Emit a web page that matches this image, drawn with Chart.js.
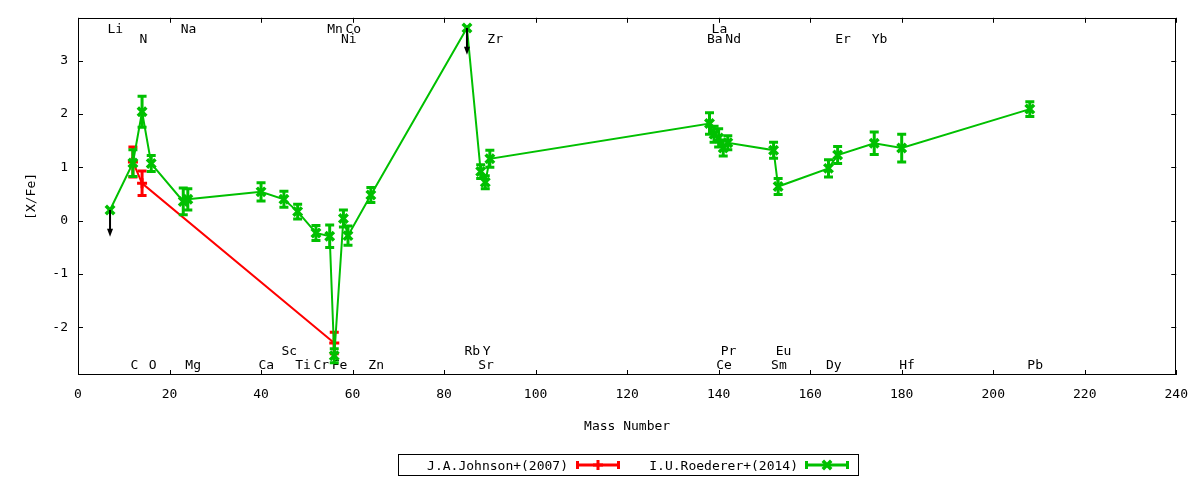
<!DOCTYPE html>
<html><head><meta charset="utf-8">
<script src="https://cdn.jsdelivr.net/npm/chart.js@4.4.1/dist/chart.umd.min.js"></script>
<style>html,body{margin:0;padding:0;background:#fff;}#wrap{width:1200px;height:480px;position:relative;}</style>
</head><body><div id="wrap"><canvas id="c"></canvas></div>
<script>
// ---- tick labels ----
const xTicks = [0, 20, 40, 60, 80, 100, 120, 140, 160, 180, 200, 220, 240];
const yTicks = [-2, -1, 0, 1, 2, 3];

// ---- J.A.Johnson+(2007) ----
const johnsonElem = ['C', 'N', 'Fe'];
const johnsonMass = [12, 14, 56];
const johnsonVal  = [1.10, 0.70, -2.29];
const johnsonErr  = [0.28, 0.23, 0.20];

// ---- I.U.Roederer+(2014) ----
const roedElem = ['Li','C','N','O','Na','Mg','Ca','Sc','Ti','Cr','Mn','Fe','Ni','Co','Zn','Rb','Sr','Y','Zr','Ba','La','Ce','Pr','Nd','Sm','Eu','Dy','Er','Yb','Hf','Pb'];
const roedMass = [7,12,14,16,23,24,40,45,48,52,55,56,58,59,64,85,88,89,90,138,139,140,141,142,152,153,164,166,174,180,208];
const roedVal  = [0.20,1.08,2.04,1.07,0.36,0.40,0.54,0.40,0.17,-0.23,-0.29,-2.53,0.04,-0.28,0.48,3.61,0.92,0.72,1.16,1.82,1.62,1.55,1.36,1.46,1.32,0.64,0.98,1.23,1.45,1.36,2.09];
const roedErr  = [0,0.25,0.29,0.15,0.25,0.20,0.17,0.15,0.14,0.14,0.21,0.13,0.16,0.18,0.14,0,0.13,0.12,0.16,0.20,0.15,0.17,0.15,0.13,0.15,0.15,0.16,0.16,0.21,0.26,0.14];
const roedUpperLimits = ['Li', 'Rb'];

// ---- element labels (groups) ----
const labelsTop1 = ['Li','Na','Mn','Co','La'];
const labelsTop2 = ['N','Ni','Zr','Ba','Nd','Er','Yb'];
const labelsBot1 = ['Sc','Rb','Y','Pr','Eu'];
const labelsBot2 = ['C','O','Mg','Ca','Ti','Cr','Fe','Zn','Sr','Ce','Sm','Dy','Hf','Pb'];

const FONT = '"DejaVu Sans Mono", monospace';
const FS = 13;
const RED = '#ff0000', GREEN = '#00c000';
const ARROW_LEN = 0.5;
const massOf = {};
roedElem.forEach((e, i) => { massOf[e] = roedMass[i]; });

function pts(m, v) { return m.map((x, i) => ({ x: x, y: v[i] })); }

function drawMarker(ctx, style, x, y, color) {
  ctx.save();
  ctx.strokeStyle = color; ctx.lineCap = 'butt';
  ctx.beginPath();
  if (style === 'cross') {
    ctx.lineWidth = 3;
    ctx.moveTo(x - 5, y); ctx.lineTo(x + 5, y);
    ctx.moveTo(x, y - 5); ctx.lineTo(x, y + 5);
  } else {
    ctx.lineWidth = 3.5;
    ctx.moveTo(x - 4.2, y - 4.2); ctx.lineTo(x + 4.2, y + 4.2);
    ctx.moveTo(x + 4.2, y - 4.2); ctx.lineTo(x - 4.2, y + 4.2);
  }
  ctx.stroke();
  ctx.restore();
}

const errorBars = {
  id: 'errorBars',
  afterDatasetDraw(chart, args) {
    const ds = chart.data.datasets[args.index];
    const xs = chart.scales.x, ys = chart.scales.y, ctx = chart.ctx;
    const a = chart.chartArea;
    ctx.save();
    ctx.beginPath(); ctx.rect(a.left, a.top, a.right - a.left, a.bottom - a.top); ctx.clip();
    ctx.strokeStyle = ds.borderColor; ctx.lineWidth = 3;
    ds.data.forEach((p, i) => {
      const e = ds.errors[i];
      if (!e) return;
      const px = xs.getPixelForValue(p.x);
      const y1 = ys.getPixelForValue(p.y + e), y2 = ys.getPixelForValue(p.y - e);
      ctx.beginPath();
      ctx.moveTo(px, y1); ctx.lineTo(px, y2);
      ctx.moveTo(px - 4.5, y1); ctx.lineTo(px + 4.5, y1);
      ctx.moveTo(px - 4.5, y2); ctx.lineTo(px + 4.5, y2);
      ctx.stroke();
    });
    // upper-limit arrows
    if (ds.upper) {
      ctx.strokeStyle = '#000'; ctx.fillStyle = '#000'; ctx.lineWidth = 2;
      ds.data.forEach((p, i) => {
        if (!ds.upper.includes(ds.elems[i])) return;
        const px = xs.getPixelForValue(p.x);
        const y0 = ys.getPixelForValue(p.y), y1 = ys.getPixelForValue(p.y - ARROW_LEN);
        ctx.beginPath(); ctx.moveTo(px, y0); ctx.lineTo(px, y1 - 6); ctx.stroke();
        ctx.beginPath(); ctx.moveTo(px, y1); ctx.lineTo(px - 3, y1 - 8); ctx.lineTo(px + 3, y1 - 8); ctx.closePath(); ctx.fill();
      });
    }
    ctx.restore();
  }
};

const frameAndLabels = {
  id: 'frameAndLabels',
  beforeDatasetsDraw(chart) {
    const ctx = chart.ctx, a = chart.chartArea, xs = chart.scales.x, ys = chart.scales.y;
    ctx.save();
    ctx.strokeStyle = '#000'; ctx.lineWidth = 1;
    ctx.strokeRect(Math.round(a.left) + 0.5, Math.round(a.top) + 0.5, Math.round(a.right - a.left) - 1, Math.round(a.bottom - a.top) - 1);
    ctx.beginPath();
    xTicks.forEach(v => {
      const px = Math.round(xs.getPixelForValue(v)) + 0.5;
      ctx.moveTo(px, a.bottom); ctx.lineTo(px, a.bottom - 5);
      ctx.moveTo(px, a.top); ctx.lineTo(px, a.top + 5);
    });
    yTicks.forEach(v => {
      const py = Math.round(ys.getPixelForValue(v)) + 0.5;
      ctx.moveTo(a.left, py); ctx.lineTo(a.left + 5, py);
      ctx.moveTo(a.right, py); ctx.lineTo(a.right - 5, py);
    });
    ctx.stroke();
    // element labels
    ctx.fillStyle = '#000'; ctx.font = FS + 'px ' + FONT;
    ctx.textAlign = 'left'; ctx.textBaseline = 'alphabetic';
    const rows = [[labelsTop1, a.top + 15.3], [labelsTop2, a.top + 25.3], [labelsBot1, a.bottom - 19.8], [labelsBot2, a.bottom - 6.3]];
    rows.forEach(([names, y]) => {
      names.forEach(n => { ctx.fillText(n, xs.getPixelForValue(massOf[n]) - 2.5, y); });
    });
    ctx.restore();
  }
};

const gnuLegend = {
  id: 'gnuLegend',
  afterDraw(chart) {
    const ctx = chart.ctx;
    ctx.save();
    ctx.strokeStyle = '#000'; ctx.lineWidth = 1;
    ctx.strokeRect(398.5, 454.5, 460, 21);
    ctx.font = FS + 'px ' + FONT; ctx.fillStyle = '#000';
    ctx.textAlign = 'right'; ctx.textBaseline = 'alphabetic';
    const y = 465;
    const items = [[568, 576, 620], [798, 805, 849]];
    chart.data.datasets.forEach((ds, i) => {
      const [tx, l, r] = items[i];
      ctx.fillText(ds.label, tx, y + 4.5);
      ctx.strokeStyle = ds.borderColor; ctx.lineWidth = 3;
      ctx.beginPath();
      ctx.moveTo(l, y); ctx.lineTo(r, y);
      ctx.moveTo(l + 1.5, y - 4); ctx.lineTo(l + 1.5, y + 4);
      ctx.moveTo(r - 1.5, y - 4); ctx.lineTo(r - 1.5, y + 4);
      ctx.stroke();
      drawMarker(ctx, ds.pointStyle, (l + r) / 2, y, ds.borderColor);
    });
    ctx.restore();
  }
};

new Chart(document.getElementById('c'), {
  type: 'line',
  data: {
    datasets: [
      { label: 'J.A.Johnson+(2007)', data: pts(johnsonMass, johnsonVal), errors: johnsonErr, elems: johnsonElem,
        borderColor: RED, backgroundColor: RED, borderWidth: 2, pointStyle: 'cross', pointRadius: 5,
        pointBorderWidth: 3, pointBorderColor: RED, tension: 0, fill: false, order: 2 },
      { label: 'I.U.Roederer+(2014)', data: pts(roedMass, roedVal), errors: roedErr, elems: roedElem, upper: roedUpperLimits,
        borderColor: GREEN, backgroundColor: GREEN, borderWidth: 2, pointStyle: 'crossRot', pointRadius: 6,
        pointBorderWidth: 3.5, pointBorderColor: GREEN, tension: 0, fill: false, order: 1 }
    ]
  },
  options: {
    responsive: true, maintainAspectRatio: false, animation: false, devicePixelRatio: 1, events: [],
    layout: { padding: { top: 17, right: 23, left: 0, bottom: 0 } },
    plugins: { legend: { display: false }, tooltip: { enabled: false } },
    scales: {
      x: {
        type: 'linear', min: 0, max: 240, position: 'bottom',
        afterBuildTicks: s => { s.ticks = xTicks.map(v => ({ value: v })); },
        afterFit: s => { s.height = 105; },
        grid: { display: false, drawTicks: false }, border: { display: false },
        ticks: { padding: 12, color: '#000', font: { family: FONT, size: FS }, callback: v => String(v), maxRotation: 0, autoSkip: false },
        title: { display: true, text: 'Mass Number', color: '#000', font: { family: FONT, size: FS }, padding: { top: 0, bottom: 46 } }
      },
      y: {
        type: 'linear', min: -2.89, max: 3.8, position: 'left',
        afterBuildTicks: s => { s.ticks = yTicks.map(v => ({ value: v })); },
        afterFit: s => { s.width = 78; },
        grid: { display: false, drawTicks: false }, border: { display: false },
        ticks: { padding: 10, color: '#000', font: { family: FONT, size: FS }, callback: v => String(v), autoSkip: false },
        title: { display: true, text: '[X/Fe]', color: '#000', font: { family: FONT, size: FS }, padding: { top: 24, bottom: 0 } }
      }
    }
  },
  plugins: [frameAndLabels, errorBars, gnuLegend]
});
</script></body></html>
